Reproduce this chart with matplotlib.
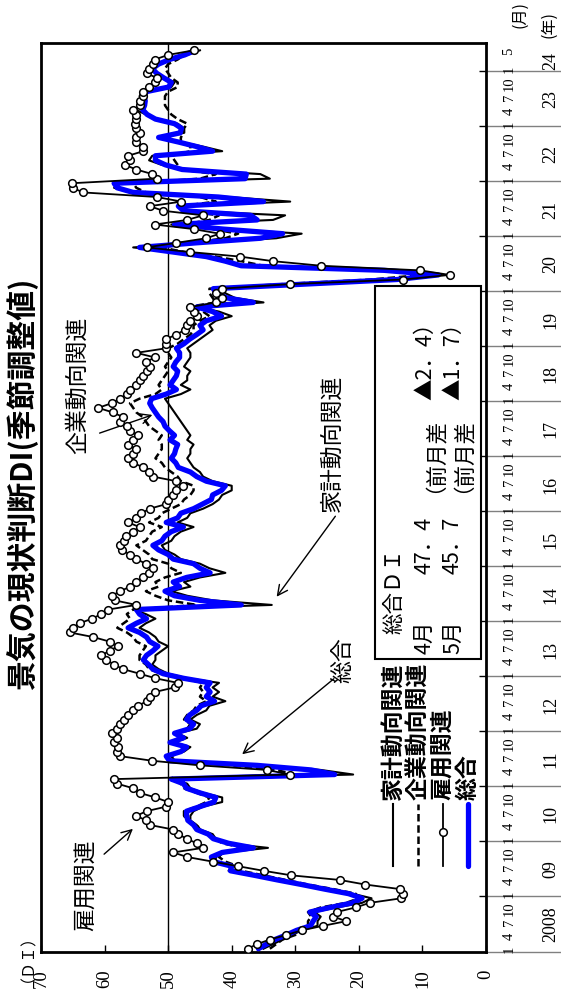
import numpy as np
import matplotlib
matplotlib.use("Agg")
from matplotlib import pyplot as plt
from matplotlib.lines import Line2D

plt.rcParams['font.family'] = ['Noto Sans CJK JP', 'DejaVu Sans']

# monthly DI, Jan 2008 .. May 2024
household = [
    35.0, 33.5, 32.0, 30.5, 29.0, 26.5, 26.5, 26.0, 27.0, 23.5, 19.5, 18.0,
    21.0, 25.5, 29.5, 33.0, 37.0, 40.5, 40.0, 42.5, 42.5, 41.0, 34.3, 41.0,
    42.5, 43.0, 45.0, 45.5, 46.5, 46.5, 46.0, 44.5, 41.5, 41.5, 44.5, 46.5,
    47.0, 49.0, 20.9, 26.0, 35.0, 49.5, 50.0, 47.5, 46.5, 49.0, 47.0, 48.5,
    45.5, 45.0, 46.5, 45.5, 44.0, 43.5, 41.0, 43.0, 42.0, 43.0, 42.0, 47.0,
    50.0, 51.5, 52.5, 52.0, 52.0, 51.0, 50.0, 51.5, 52.0, 53.0, 54.5, 53.5,
    52.0, 53.5, 55.5, 33.7, 43.0, 47.0, 49.5, 46.5, 47.5, 45.0, 41.0, 43.5,
    45.0, 48.0, 49.0, 50.5, 51.0, 49.5, 49.0, 48.0, 46.0, 48.5, 47.0, 46.5,
    44.5, 43.0, 42.0, 41.5, 40.0, 40.0, 43.0, 44.5, 45.0, 46.0, 46.5, 47.0,
    46.5, 46.5, 46.0, 47.0, 46.5, 47.0, 47.5, 48.0, 48.5, 49.0, 49.5, 50.0,
    50.5, 48.0, 46.5, 48.0, 47.0, 47.0, 46.5, 47.5, 47.0, 46.5, 46.5, 47.0,
    46.0, 45.0, 44.0, 43.0, 43.5, 42.5, 40.0, 42.0, 45.5, 35.0, 39.5, 41.0,
    41.5, 27.0, 12.5, 7.0, 16.5, 39.0, 41.0, 43.5, 49.0, 55.5, 45.0, 33.0,
    29.0, 40.5, 49.5, 33.5, 31.6, 47.0, 48.0, 30.8, 40.5, 56.0, 58.5, 58.0,
    34.0, 35.5, 47.0, 51.0, 53.0, 52.5, 41.5, 44.5, 48.0, 51.0, 47.5, 47.5,
    48.5, 52.0, 53.5, 55.0, 54.5, 54.0, 54.5, 54.0, 49.5, 49.0, 50.5, 52.0,
    53.0, 51.5, 49.5, 47.0, 45.0,
]
corporate = [
    34.0, 33.0, 32.0, 30.0, 29.5, 28.0, 28.0, 27.5, 28.0, 26.0, 22.0, 20.0,
    20.5, 24.0, 28.0, 31.5, 35.0, 38.5, 39.0, 41.0, 42.0, 41.5, 38.0, 41.5,
    42.5, 43.5, 45.0, 45.5, 47.0, 47.5, 47.5, 45.5, 44.0, 43.5, 45.5, 47.5,
    48.0, 49.5, 30.0, 33.0, 40.0, 49.0, 49.5, 48.0, 47.5, 49.5, 48.0, 49.0,
    47.0, 46.5, 47.5, 47.0, 46.0, 45.5, 44.0, 45.0, 44.5, 45.0, 44.5, 48.0,
    51.0, 53.0, 53.5, 54.5, 54.5, 54.0, 53.5, 55.0, 55.5, 56.5, 58.0, 57.0,
    56.0, 56.5, 55.5, 45.5, 50.0, 52.0, 53.5, 51.5, 52.0, 50.5, 48.0, 49.5,
    50.0, 52.5, 53.0, 54.0, 55.0, 53.5, 53.0, 52.5, 51.0, 53.0, 51.5, 51.0,
    49.5, 48.0, 47.5, 46.5, 46.0, 46.0, 48.0, 48.5, 49.5, 50.5, 51.0, 52.0,
    51.5, 51.0, 51.0, 51.5, 51.0, 52.0, 53.0, 53.5, 54.0, 55.0, 55.5, 56.0,
    54.5, 52.0, 51.0, 51.5, 51.0, 50.5, 50.0, 50.5, 50.0, 49.5, 50.0, 50.0,
    48.5, 47.5, 46.5, 46.0, 46.0, 45.0, 43.5, 44.5, 47.0, 42.5, 43.0, 43.5,
    43.5, 32.0, 18.0, 10.0, 15.5, 35.0, 38.5, 42.5, 47.5, 51.0, 46.5, 41.0,
    39.0, 43.0, 47.5, 43.5, 42.0, 47.5, 48.0, 42.5, 45.0, 53.5, 55.0, 55.5,
    45.0, 42.5, 48.0, 48.5, 49.0, 49.5, 46.5, 46.5, 48.0, 48.0, 47.5, 47.5,
    47.0, 48.5, 49.5, 50.0, 50.5, 50.5, 50.5, 50.0, 48.5, 48.5, 49.5, 50.0,
    50.5, 50.0, 48.5, 47.5, 46.0,
]
employment = [
    37.5, 36.0, 34.0, 31.4, 29.0, 25.6, 22.0, 24.0, 23.5, 20.5, 18.3, 13.3,
    13.0, 13.5, 19.0, 23.0, 30.6, 35.0, 39.0, 43.0, 47.0, 49.2, 44.5, 45.5,
    47.1, 48.4, 49.2, 52.9, 53.5, 55.0, 53.4, 50.3, 50.0, 52.0, 54.5, 55.5,
    58.0, 58.5, 30.8, 34.5, 45.0, 52.5, 57.5, 58.0, 57.9, 58.5, 58.0, 58.9,
    58.0, 57.6, 57.0, 56.3, 55.5, 54.7, 53.4, 52.9, 52.1, 49.0, 48.5, 52.0,
    54.5, 57.1, 58.5, 59.7, 60.5, 59.2, 57.9, 59.2, 61.8, 65.5, 65.0, 63.9,
    62.0, 60.5, 59.4, 55.0, 58.4, 58.9, 57.5, 56.0, 55.0, 54.0, 53.0, 52.4,
    53.5, 55.0, 56.0, 57.3, 57.6, 57.0, 56.6, 55.5, 54.5, 56.3, 55.0, 54.2,
    52.9, 50.3, 50.0, 49.2, 48.7, 47.6, 48.7, 52.4, 53.0, 53.9, 55.5, 56.3,
    55.5, 55.0, 56.3, 55.5, 54.7, 56.0, 56.5, 57.6, 57.1, 58.7, 61.0, 58.9,
    57.6, 56.5, 56.0, 55.0, 54.5, 54.0, 53.4, 52.9, 53.5, 52.1, 55.0, 50.3,
    50.3, 50.3, 48.7, 47.4, 47.0, 46.5, 45.5, 46.0, 46.5, 42.5, 41.6, 42.4,
    41.6, 30.8, 13.0, 5.7, 10.4, 25.9, 33.5, 38.7, 46.6, 53.4, 48.7, 44.0,
    41.9, 46.0, 52.1, 47.0, 44.5, 50.8, 52.9, 47.9, 51.8, 63.4, 65.0, 65.2,
    51.8, 52.5, 55.0, 56.8, 56.0, 56.3, 53.9, 54.0, 55.0, 55.0, 54.5, 55.0,
    55.2, 55.0, 55.0, 55.5, 54.5, 54.5, 54.0, 53.9, 53.0, 52.1, 51.8, 53.4,
    53.0, 52.4, 52.1, 50.0, 46.0,
]
composite = [
    35.8, 34.5, 33.2, 31.4, 29.8, 27.6, 27.2, 26.7, 27.7, 24.5, 21.0, 19.5,
    21.6, 25.4, 29.0, 32.8, 36.4, 40.2, 40.0, 42.9, 43.2, 41.5, 36.6, 40.5,
    42.9, 43.7, 45.5, 46.0, 46.9, 47.1, 47.1, 45.0, 42.8, 42.5, 45.0, 47.1,
    47.6, 49.5, 23.8, 27.5, 36.0, 49.8, 50.3, 48.0, 47.1, 49.7, 47.6, 49.0,
    46.6, 46.0, 47.1, 46.6, 45.5, 44.8, 42.7, 44.0, 43.4, 44.0, 43.4, 47.6,
    50.8, 52.4, 53.1, 53.9, 53.4, 52.4, 51.6, 52.9, 53.4, 54.5, 56.3, 55.0,
    53.4, 54.5, 55.0, 38.5, 45.0, 49.0, 50.5, 48.2, 49.2, 47.1, 43.4, 45.0,
    46.0, 49.2, 50.0, 51.5, 52.4, 51.0, 50.5, 49.5, 47.6, 50.3, 48.5, 48.0,
    46.0, 44.6, 43.2, 43.0, 41.6, 41.0, 44.0, 45.5, 46.5, 48.4, 48.8, 49.5,
    49.0, 48.8, 48.5, 49.7, 49.0, 49.8, 50.5, 50.8, 51.5, 52.0, 52.5, 52.9,
    52.6, 50.3, 48.7, 49.7, 49.2, 48.7, 48.5, 49.2, 48.8, 48.2, 48.2, 48.7,
    47.5, 46.6, 45.5, 44.5, 45.0, 44.0, 41.6, 43.0, 45.5, 36.6, 40.8, 42.4,
    42.9, 28.5, 14.0, 7.5, 16.0, 38.5, 41.0, 44.0, 49.3, 54.5, 45.6, 35.5,
    32.0, 41.3, 49.0, 36.0, 37.0, 47.6, 48.4, 35.0, 42.1, 55.5, 58.0, 58.5,
    37.9, 37.7, 47.8, 50.4, 52.0, 52.0, 43.0, 45.5, 48.4, 51.5, 48.1, 47.9,
    49.0, 52.0, 53.3, 54.0, 53.7, 53.6, 53.8, 53.4, 49.9, 49.5, 50.7, 51.8,
    52.5, 51.5, 49.8, 47.4, 45.7,
]
year_labels = ['2008', '09', '10', '11', '12', '13', '14', '15', '16',
               '17', '18', '19', '20', '21', '22', '23', '24']
month_labels = ['1', '4', '7', '10']
series_names = ['家計動向関連', '企業動向関連', '雇用関連', '総合']

W, H = 561, 1003


def fx(px):
    return px / W


def fy(py):
    return 1 - py / H


months = np.arange(len(composite))
blue = '#0000ff'

fig = plt.figure(figsize=(W / 100, H / 100), dpi=100)
ax = fig.add_axes([fx(41), fy(953), fx(486) - fx(41), fy(44) - fy(953)])
ax.set_xlim(70, 0)
ax.set_ylim(-0.72, 197.6)

# chart is drawn turned on its side: DI runs across, time runs up
ax.axvline(50, color='black', lw=1.0, zorder=1)
ax.plot(household, months, color='black', lw=1.5, zorder=2)
ax.plot(corporate, months, color='black', lw=1.8, ls=(0, (3, 1.5)), zorder=2)
ax.plot(composite, months, color=blue, lw=3.8, zorder=3, solid_capstyle='round')
ax.plot(employment, months, color='black', lw=1.3, marker='o', ms=5.5,
        mfc='white', mec='black', mew=1.1, zorder=4)

for s in ax.spines.values():
    s.set_linewidth(2.0)

ax.set_xticks(range(0, 71, 10))
ax.set_xticklabels([str(v) for v in range(0, 71, 10)], rotation=90,
                   family='Liberation Serif', fontsize=13.5)
ax.tick_params(axis='x', direction='in', length=5, width=1, pad=12)

boundaries = [11.5 + 12 * k for k in range(len(year_labels) - 1)]
ax.yaxis.tick_right()
ax.set_yticks(boundaries)
ax.set_yticklabels([])
ax.tick_params(axis='y', direction='in', length=5, width=1)

# time labels in the band at the right
trans = ax.get_yaxis_transform()
xr = (W - 41) / 445
ax.hlines([-0.72] + boundaries, 1.0, xr, transform=trans, clip_on=False,
          color='0.5', lw=1.0)
for i, yl in enumerate(year_labels):
    first = 12 * i
    last = min(first + 11, len(composite) - 1)
    ax.text((551 - 41) / 445, (first + last) / 2, yl, transform=trans,
            rotation=90, ha='center', va='center', family='Liberation Serif',
            fontsize=13)
    if first + 11 < len(composite):
        pos = [(first + k, lab) for k, lab in zip((0, 3, 6, 9), month_labels)]
    else:
        pos = [(first, '1'), (last, str(last - first + 1))]
    for m, lab in pos:
        ax.text((509 - 41) / 445, m, lab, transform=trans, rotation=90,
                ha='center', va='center', family='Liberation Serif', fontsize=10.5)

fig.text(fx(520), fy(1), '(月)', rotation=90, ha='center', va='top', fontsize=11.5)
fig.text(fx(549), fy(11), '(年)', rotation=90, ha='center', va='top', fontsize=11.5)

fig.text(fx(22), fy(484), '景気の現状判断DI(季節調整値)', rotation=90,
         ha='center', va='center', fontsize=21.5, weight='bold')
fig.text(fx(20), fy(950), '（ＤＩ）', rotation=90, ha='center', va='center',
         fontsize=11.5)

# legend drawn by hand, rotated with the chart
leg_x = [393, 418, 443, 468]
styles = [dict(color='black', lw=1.5),
          dict(color='black', lw=1.8, ls=(0, (3, 1.5))),
          dict(color='black', lw=1.3),
          dict(color=blue, lw=3.8, solid_capstyle='round')]
for lx, st, name in zip(leg_x, styles, series_names):
    fig.add_artist(Line2D([fx(lx), fx(lx)], [fy(867), fy(805)], **st))
    fig.text(fx(lx), fy(800), name, rotation=90, ha='center', va='bottom',
             fontsize=16.5, weight='bold')
fig.add_artist(Line2D([fx(443)], [fy(833)], marker='o', ms=5.5, mfc='white',
                      mec='black', mew=1.1))

# info box
box = plt.Rectangle((fx(375), fy(660)), fx(481) - fx(375), fy(287) - fy(660),
                    transform=fig.transFigure, fill=True, fc='white',
                    ec='black', lw=1.5, zorder=5)
fig.add_artist(box)
rows = [(394, [(634, '総合ＤＩ')]),
        (425, [(654, '4月'), (574, '47．4'), (493, '（前月差'), (400, '▲2．4）')]),
        (453, [(654, '5月'), (574, '45．7'), (493, '（前月差'), (400, '▲1．7）')])]
for rx, items in rows:
    for ry, txt in items:
        fig.text(fx(rx), fy(ry), txt, rotation=90, ha='center', va='bottom',
                 fontsize=15.5, zorder=6)

# annotations
arrow = dict(arrowstyle='->', color='black', lw=1.0, mutation_scale=18)
notes = [('雇用関連', (85, 885), (102, 857), (135, 828)),
         ('総合', (343, 660), (336, 678), (240, 757)),
         ('家計動向関連', (332, 443), (337, 515), (275, 600)),
         ('企業動向関連', (77, 385), (97, 435), (155, 415))]
for txt, (tx, ty), (ax0, ay0), (ax1, ay1) in notes:
    fig.text(fx(tx), fy(ty), txt, rotation=90, ha='center', va='center',
             fontsize=16.5)
    ax.annotate('', xy=(fx(ax1), fy(ay1)), xycoords='figure fraction',
                xytext=(fx(ax0), fy(ay0)), textcoords='figure fraction',
                arrowprops=arrow)

fig.savefig('out.png', dpi=100)
